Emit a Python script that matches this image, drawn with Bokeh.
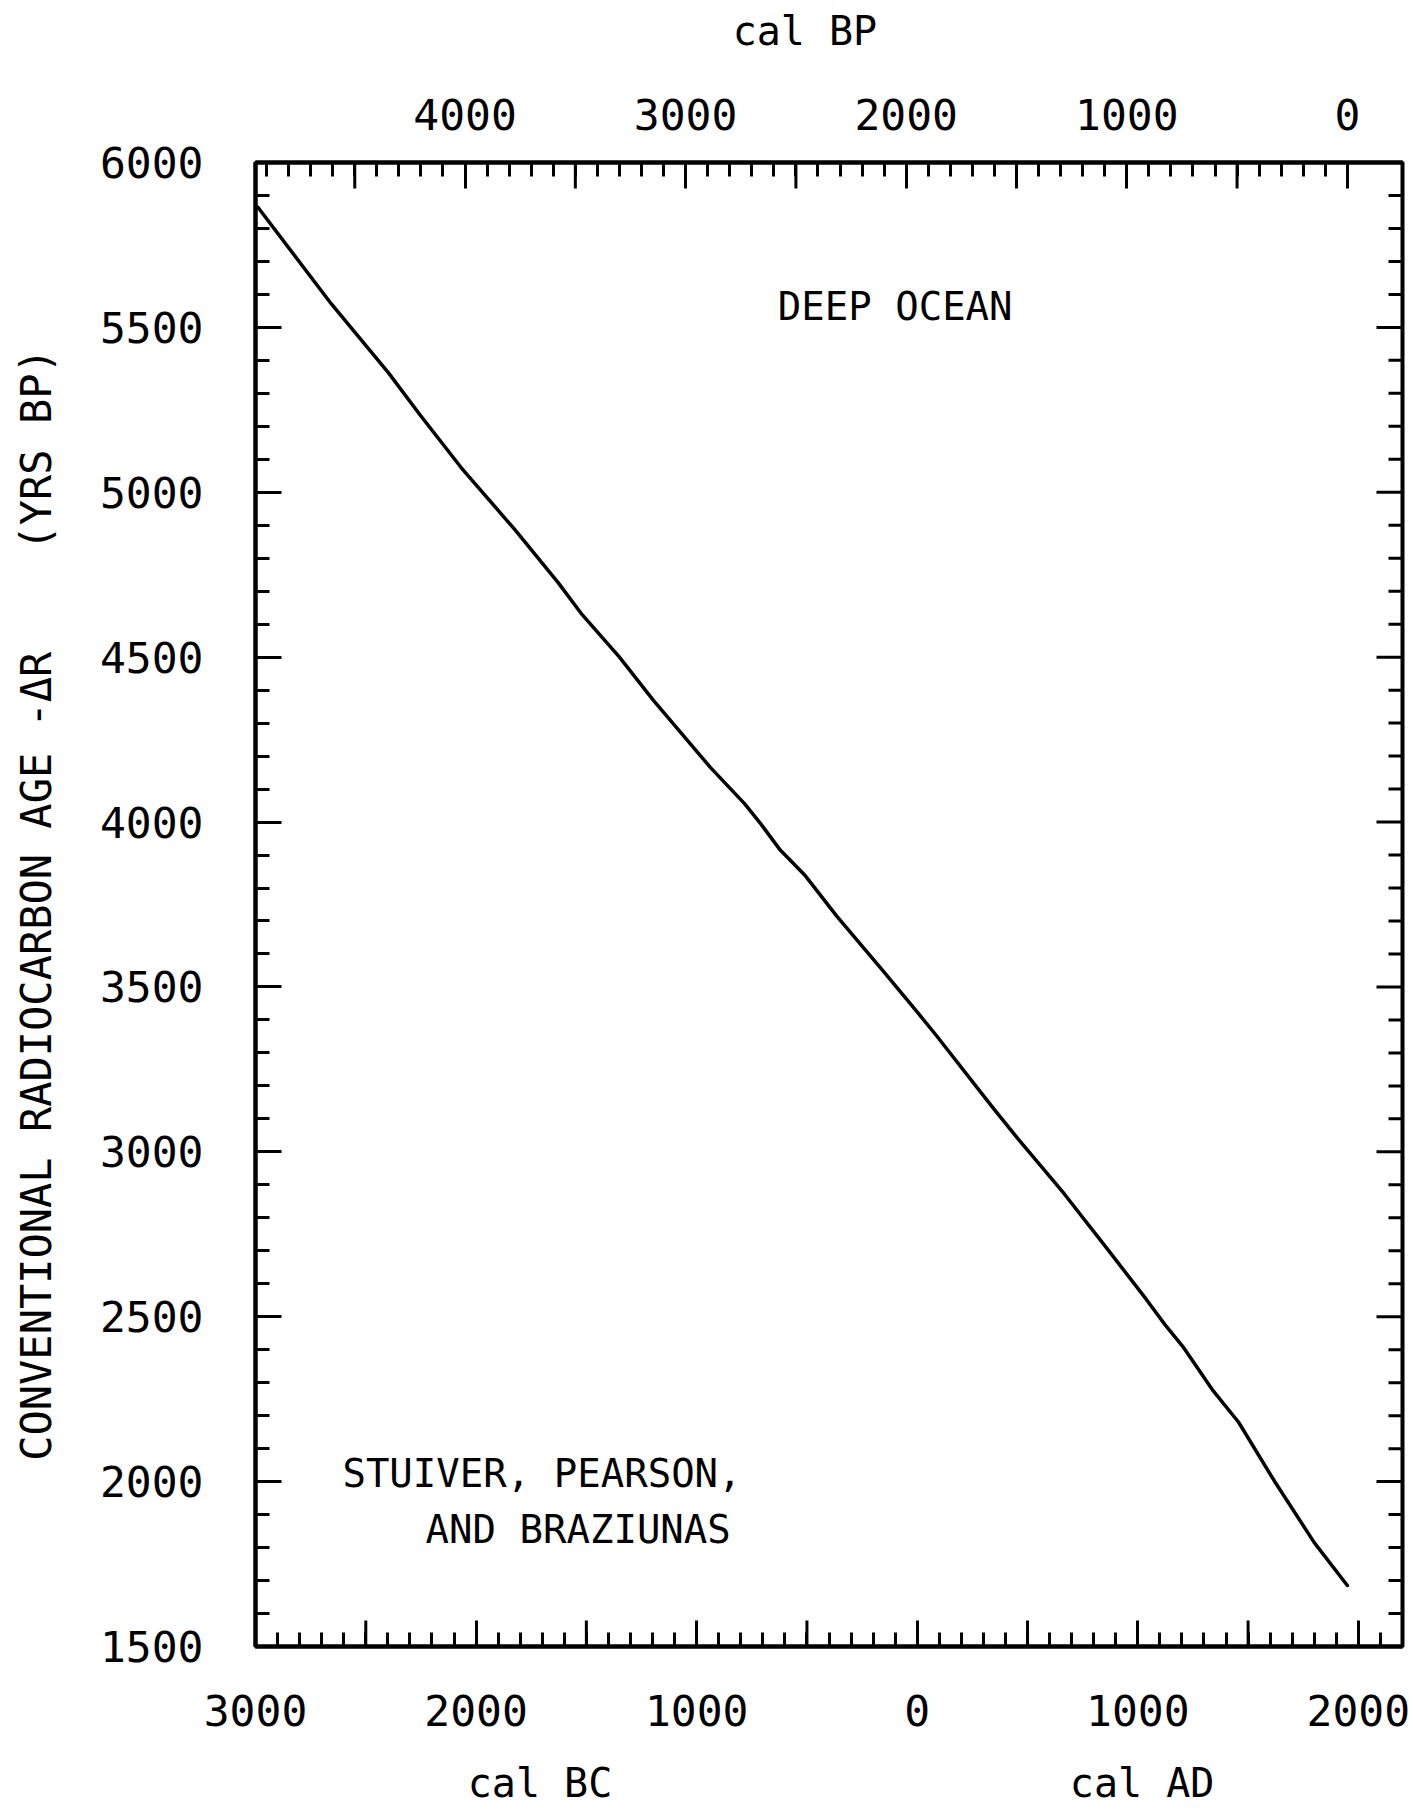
import math
from bokeh.plotting import figure
from bokeh.models import Range1d, FixedTicker, LinearAxis, Label
from bokeh.embed import file_html
from bokeh.resources import INLINE

# ---- data ----
cal_year_ad = [-2990, -2656, -2397, -2258, -2068, -1826, -1628, -1524, -1351, -1196,
               -937, -782, -712, -621, -507, -364, -155, 7, 84, 284,
               349, 456, 607, 666, 866, 1037, 1123, 1208, 1342,
               1457, 1619, 1800, 1950]
radiocarbon_age = [5865, 5571, 5362, 5238, 5075, 4888, 4726, 4633, 4501, 4369,
                   4165, 4055, 3997, 3915, 3837, 3714, 3549, 3418, 3355, 3184,
                   3129, 3040, 2920, 2873, 2702, 2554, 2476, 2406, 2275,
                   2180, 2002, 1815, 1685]

# axis extents and tick labels
x_start, x_end = -3000, 2200
y_start, y_end = 1500, 6000
bottom_label_years = [-3000, -2000, -1000, 0, 1000, 2000]
bottom_label_texts = ["3000", "2000", "1000", "0", "1000", "2000"]
bottom_unlabeled_years = [-2500, -1500, -500, 500, 1500]
top_label_bp = [4000, 3000, 2000, 1000, 0]
top_label_texts = ["4000", "3000", "2000", "1000", "0"]
top_unlabeled_bp = [4500, 3500, 2500, 1500, 500]
y_label_values = [1500, 2000, 2500, 3000, 3500, 4000, 4500, 5000, 5500, 6000]

FONT = "DejaVu Sans Mono"
NB = "\u00a0"

p = figure(width=1412, height=1811,
           x_range=Range1d(x_start, x_end), y_range=Range1d(y_start, y_end),
           output_backend="svg", toolbar_location=None,
           min_border_left=255, min_border_right=10,
           min_border_top=162, min_border_bottom=165)
p.grid.visible = False
p.background_fill_color = "white"
p.border_fill_color = "white"
p.outline_line_color = "black"
p.outline_line_width = 4


def style_axis(ax):
    ax.axis_line_color = "black"
    ax.axis_line_width = 4
    ax.major_tick_in = 26
    ax.major_tick_out = 0
    ax.minor_tick_in = 14
    ax.minor_tick_out = 0
    ax.major_tick_line_color = "black"
    ax.minor_tick_line_color = "black"
    ax.major_tick_line_width = 3
    ax.minor_tick_line_width = 3
    ax.major_label_text_font = FONT
    ax.major_label_text_font_size = "43px"
    ax.major_label_text_color = "black"
    ax.axis_label_text_font = FONT
    ax.axis_label_text_font_style = "normal"
    ax.axis_label_text_color = "black"


# bottom axis: cal BC / AD
bx = p.xaxis[0]
bx.ticker = FixedTicker(ticks=bottom_label_years,
                        minor_ticks=[v for v in range(x_start, 2101, 100) if v % 1000 != 0])
bx.major_label_overrides = {v: t for v, t in zip(bottom_label_years, bottom_label_texts)}
style_axis(bx)
bx.major_label_standoff = 48
bx.axis_label = NB + "cal BC" + NB * 19 + "cal AD"
bx.axis_label_text_font_size = "40px"
bx.axis_label_standoff = 31

# left axis: radiocarbon age
ly = p.yaxis[0]
ly.ticker = FixedTicker(ticks=y_label_values,
                        minor_ticks=[v for v in range(y_start, y_end + 1, 100) if v % 500 != 0])
style_axis(ly)
ly.major_label_standoff = 52
ly.axis_label = "CONVENTIONAL RADIOCARBON AGE -\u0394R" + NB * 4 + "(YRS BP)"
ly.axis_label_text_font_size = "42px"
ly.axis_label_standoff = 36

# top axis: cal BP (positions in cal AD = 1950 - BP)
tx = LinearAxis(ticker=FixedTicker(
    ticks=[1950 - bp for bp in top_label_bp],
    minor_ticks=[1950 - bp for bp in range(100, 4901, 100) if bp % 1000 != 0]))
tx.major_label_overrides = {1950 - bp: t for bp, t in zip(top_label_bp, top_label_texts)}
style_axis(tx)
tx.major_label_standoff = 33
tx.axis_label = "cal BP" + NB * 2
tx.axis_label_text_font_size = "40px"
tx.axis_label_standoff = 42
p.add_layout(tx, "above")

# longer unlabeled ticks every 500 years (half of each dash is clipped by the frame)
tick_style = dict(marker="dash", line_color="black", line_width=3)
p.scatter(bottom_unlabeled_years, [y_start] * len(bottom_unlabeled_years),
          size=52, angle=math.pi / 2, **tick_style)
top_unl = [1950 - bp for bp in top_unlabeled_bp]
p.scatter(top_unl, [y_end] * len(top_unl), size=52, angle=math.pi / 2, **tick_style)
# right-hand ticks
right_minor = [v for v in range(y_start, y_end + 1, 100) if v % 500 != 0]
p.scatter([x_end] * len(y_label_values), y_label_values, size=52, **tick_style)
p.scatter([x_end] * len(right_minor), right_minor, size=28, **tick_style)

# curve
p.line(cal_year_ad, radiocarbon_age, line_width=3.5, line_color="black",
       line_cap="round", line_join="round")


# texts inside the frame
def add_label(text, x, y, align="left"):
    p.add_layout(Label(x=x, y=y, text=text, text_font=FONT, text_font_size="39px",
                       text_color="black", text_align=align, text_baseline="middle"))


add_label("DEEP OCEAN", -100, 5563, align="center")
add_label("STUIVER, PEARSON,", -2606, 2025)
add_label("AND BRAZIUNAS", -2229, 1855)

open("out.html", "w").write(file_html(p, INLINE))
